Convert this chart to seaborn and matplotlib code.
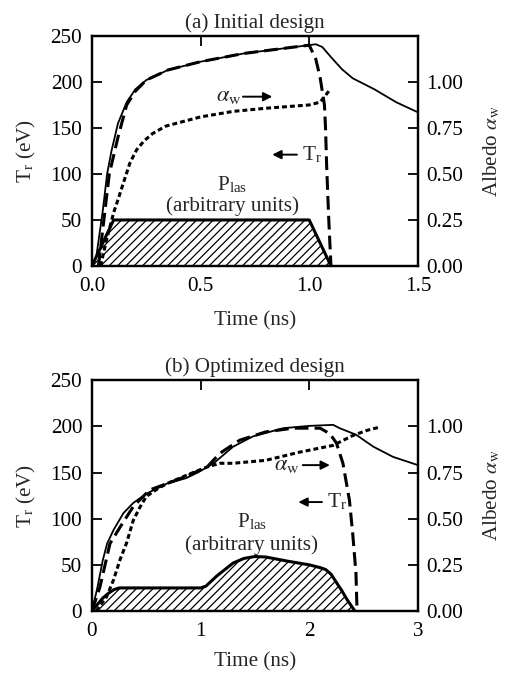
import numpy as np
import pandas as pd
import matplotlib
matplotlib.use("Agg")
import matplotlib.pyplot as plt
import seaborn as sns

# ---------------- data ----------------
# (a) Initial design
a_tr_t = [0, 0.02, 0.05, 0.07, 0.09, 0.12, 0.16, 0.2, 0.25, 0.35, 0.5, 0.7, 0.9, 1.0, 1.03, 1.06, 1.1, 1.15, 1.2, 1.3, 1.4, 1.5]
a_tr_v = [0, 10, 60, 100, 125, 155, 178, 192, 202, 213, 222, 231, 237, 240, 241, 238, 227, 214, 204, 192, 178, 167]
a_trd_t = [0.03, 0.06, 0.08, 0.12, 0.16, 0.2, 0.25, 0.35, 0.5, 0.7, 0.9, 1.0, 1.03, 1.05, 1.07, 1.075, 1.08, 1.09, 1.1]
a_trd_v = [0, 60, 100, 140, 175, 190, 202, 213, 222, 231, 237, 240, 225, 205, 175, 150, 110, 50, 0]
a_alb_t = [0.04, 0.067, 0.1, 0.12, 0.15, 0.175, 0.205, 0.24, 0.28, 0.34, 0.5, 0.65, 0.8, 1.0, 1.05, 1.095]
a_alb_v = [0, 0.14, 0.29, 0.36, 0.47, 0.56, 0.63, 0.68, 0.72, 0.76, 0.81, 0.84, 0.857, 0.875, 0.89, 0.957]
a_las_t = [0, 0.1, 1.0, 1.1]
a_las_v = [0, 50, 50, 0]

# (b) Optimized design
b_tr_t = [0, 0.05, 0.1, 0.14, 0.2, 0.29, 0.38, 0.5, 0.69, 0.87, 0.99, 1.12, 1.3, 1.48, 1.76, 2.0, 2.22, 2.28, 2.43, 2.59, 2.77, 3.0]
b_tr_v = [0, 25, 55, 73, 88, 106, 117, 127, 138, 144, 151, 160, 178, 189, 198, 200.5, 201.6, 198, 191, 178, 167, 158]
b_trd_t = [0, 0.074, 0.166, 0.26, 0.38, 0.53, 0.69, 0.87, 1.06, 1.18, 1.36, 1.6, 1.85, 2.1, 2.19, 2.25, 2.31, 2.37, 2.4, 2.43, 2.44]
b_trd_v = [0, 26, 73, 91, 113, 131, 138, 146, 156, 171, 185, 194, 198, 198, 192, 182, 160, 120, 84, 41, 0]
b_alb_t = [0.04, 0.135, 0.2, 0.26, 0.32, 0.38, 0.44, 0.5, 0.6, 0.69, 0.87, 1.06, 1.18, 1.3, 1.6, 1.91, 2.22, 2.4, 2.53, 2.65]
b_alb_v = [0, 0.077, 0.17, 0.28, 0.37, 0.49, 0.56, 0.62, 0.66, 0.69, 0.735, 0.78, 0.80, 0.80, 0.816, 0.86, 0.897, 0.95, 0.978, 0.996]
b_las_t = [0, 0.05, 0.1, 0.15, 0.2, 0.25, 1.0, 1.05, 1.15, 1.3, 1.4, 1.5, 1.6, 1.8, 2.0, 2.1, 2.15, 2.2, 2.3, 2.35, 2.42]
b_las_v = [0, 7, 14, 19, 23, 25, 25, 27, 38, 52, 57, 59, 58.5, 54, 50, 47, 45, 40, 22, 12, 0]

tr_ticks = [0, 50, 100, 150, 200, 250]
alb_ticks = [0.0, 0.25, 0.5, 0.75, 1.0]
a_xticks = [0.0, 0.5, 1.0, 1.5]
b_xticks = [0, 1, 2, 3]
titles = ["(a) Initial design", "(b) Optimized design"]

# ---------------- style ----------------
sns.set_theme(style="ticks")
plt.rcParams["font.family"] = ["Liberation Serif", "DejaVu Serif"]
plt.rcParams["mathtext.fontset"] = "stix"
plt.rcParams["hatch.linewidth"] = 0.9
FS = 15.2

fig = plt.figure(figsize=(5.05, 6.73), dpi=100)
axes = [fig.add_axes([0.182, 0.6048, 0.6455, 0.3418]),
        fig.add_axes([0.182, 0.0921, 0.6455, 0.343])]

panels = [
    dict(tr=(a_tr_t, a_tr_v), trd=(a_trd_t, a_trd_v), alb=(a_alb_t, a_alb_v), las=(a_las_t, a_las_v),
         xlim=(0, 1.5), xticks=a_xticks, xfmt="{:.1f}", xlabpad=11,
         alw=dict(text=0.63, y=184, a0=0.695, a1=0.83),
         trl=dict(x0=0.965, x1=0.83, y=121),
         plas=(0.645, 88, 65)),
    dict(tr=(b_tr_t, b_tr_v), trd=(b_trd_t, b_trd_v), alb=(b_alb_t, b_alb_v), las=(b_las_t, b_las_v),
         xlim=(0, 3), xticks=b_xticks, xfmt="{:d}", xlabpad=8,
         alw=dict(text=1.79, y=158, a0=1.94, a1=2.19),
         trl=dict(x0=2.16, x1=1.9, y=118),
         plas=(1.47, 96, 71)),
]

for ax, p, title in zip(axes, panels, titles):
    las = pd.DataFrame({"t": p["las"][0], "v": p["las"][1]})
    ax.fill_between(las["t"], 0, las["v"], facecolor="white", edgecolor="black",
                    hatch="////", linewidth=0, zorder=1)
    sns.lineplot(data=las, x="t", y="v", ax=ax, color="black", lw=2.2, zorder=2)

    tr = pd.DataFrame({"t": p["tr"][0], "v": p["tr"][1]})
    sns.lineplot(data=tr, x="t", y="v", ax=ax, color="black", lw=1.3, zorder=3)
    trd = pd.DataFrame({"t": p["trd"][0], "v": p["trd"][1]})
    sns.lineplot(data=trd, x="t", y="v", ax=ax, color="black", lw=2.2, zorder=3,
                 linestyle=(0, (4.5, 2.0)))

    ax.set_xlim(*p["xlim"])
    ax.set_ylim(0, 250)
    ax.set_yticks(tr_ticks)
    ax.set_yticklabels([str(v) for v in tr_ticks], fontsize=FS)
    ax.set_xticks(p["xticks"])
    ax.set_xticklabels([p["xfmt"].format(v) for v in p["xticks"]], fontsize=FS)
    ax.tick_params(axis="both", direction="in", length=7.5, width=1.3, top=True, right=False,
                   colors="black")
    ax.tick_params(axis="x", pad=8)
    ax.tick_params(axis="y", pad=7)
    ax.set_xlabel("Time (ns)", fontsize=FS, labelpad=p["xlabpad"])
    ax.set_ylabel(r"T$_\mathregular{r}$ (eV)", fontsize=FS, labelpad=9)
    ax.set_title(title, fontsize=FS, pad=6)
    for s in ax.spines.values():
        s.set_linewidth(1.6)
        s.set_color("black")

    ax2 = ax.twinx()
    alb = pd.DataFrame({"t": p["alb"][0], "v": p["alb"][1]})
    sns.lineplot(data=alb, x="t", y="v", ax=ax2, color="black", lw=2.2,
                 linestyle=(0, (1.6, 1.0)))
    ax2.set_ylim(0, 1.25)
    ax2.set_yticks(alb_ticks)
    ax2.set_yticklabels([f"{v:.2f}" for v in alb_ticks], fontsize=FS)
    ax2.tick_params(axis="y", direction="in", length=7.5, width=1.3, pad=6, colors="black")
    ax2.set_ylabel(r"Albedo $\alpha_\mathrm{w}$", fontsize=FS, labelpad=13)
    ax2.set_xlabel("")
    for s in ax2.spines.values():
        s.set_linewidth(1.6)
        s.set_color("black")

    # annotations
    a = p["alw"]
    ax.text(a["text"], a["y"], r"$\alpha_\mathrm{w}$", fontsize=FS + 1, ha="center", va="center")
    ax.annotate("", xy=(a["a1"], a["y"]), xytext=(a["a0"], a["y"]),
                arrowprops=dict(arrowstyle="-|>", color="black", lw=1.4, mutation_scale=13,
                                shrinkA=0, shrinkB=0))
    t = p["trl"]
    ax.annotate(r"T$_\mathregular{r}$", xy=(t["x1"], t["y"]), xytext=(t["x0"], t["y"]),
                fontsize=FS, ha="left", va="center",
                arrowprops=dict(arrowstyle="-|>", color="black", lw=1.4, mutation_scale=13,
                                shrinkA=1, shrinkB=0))
    px, py1, py2 = p["plas"]
    ax.text(px, py1, r"P$_\mathregular{las}$", fontsize=FS, ha="center", va="center")
    ax.text(px, py2, "(arbitrary units)", fontsize=FS, ha="center", va="center")

fig.savefig("out.png", dpi=100)
